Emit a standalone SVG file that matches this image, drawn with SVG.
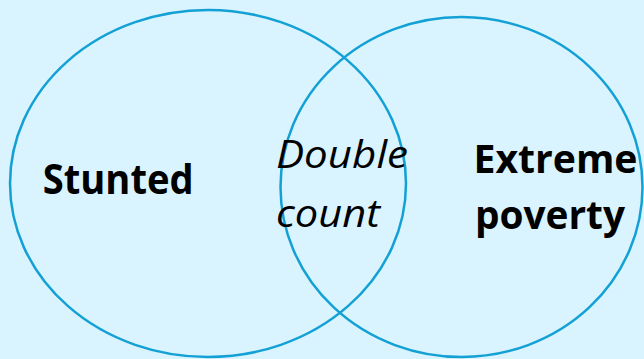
<svg xmlns="http://www.w3.org/2000/svg" width="644" height="359" viewBox="0 0 644 359">
  <style>
    .set { fill: none; stroke: #13a0d5; stroke-width: 2.5; }
    .lbl { font-family: "Open Sans", "Liberation Sans", sans-serif; font-weight: 700; fill: #000; }
    .ital { font-family: "Open Sans", "Liberation Sans", sans-serif; font-style: italic; font-weight: 400; fill: #000; }
  </style>
  <rect x="0" y="0" width="644" height="359" fill="#d9f4fe"/>
  <g id="stunted">
    <ellipse class="set" cx="208" cy="183.5" rx="198" ry="173.5"/>
    <text class="lbl" x="42.7" y="193.5" font-size="41" textLength="151" lengthAdjust="spacingAndGlyphs">Stunted</text>
  </g>
  <g id="extreme-poverty">
    <ellipse class="set" cx="461.5" cy="187" rx="181" ry="170"/>
    <text class="lbl" x="473.5" y="173.3" font-size="40" textLength="164" lengthAdjust="spacingAndGlyphs">Extreme</text>
    <text class="lbl" x="475" y="228.5" font-size="40" textLength="150" lengthAdjust="spacingAndGlyphs">poverty</text>
  </g>
  <g id="double-count">
    <text class="ital" x="276" y="168.3" font-size="39" textLength="132" lengthAdjust="spacingAndGlyphs">Double</text>
    <text class="ital" x="276" y="226.5" font-size="39" textLength="104" lengthAdjust="spacingAndGlyphs">count</text>
  </g>
</svg>
